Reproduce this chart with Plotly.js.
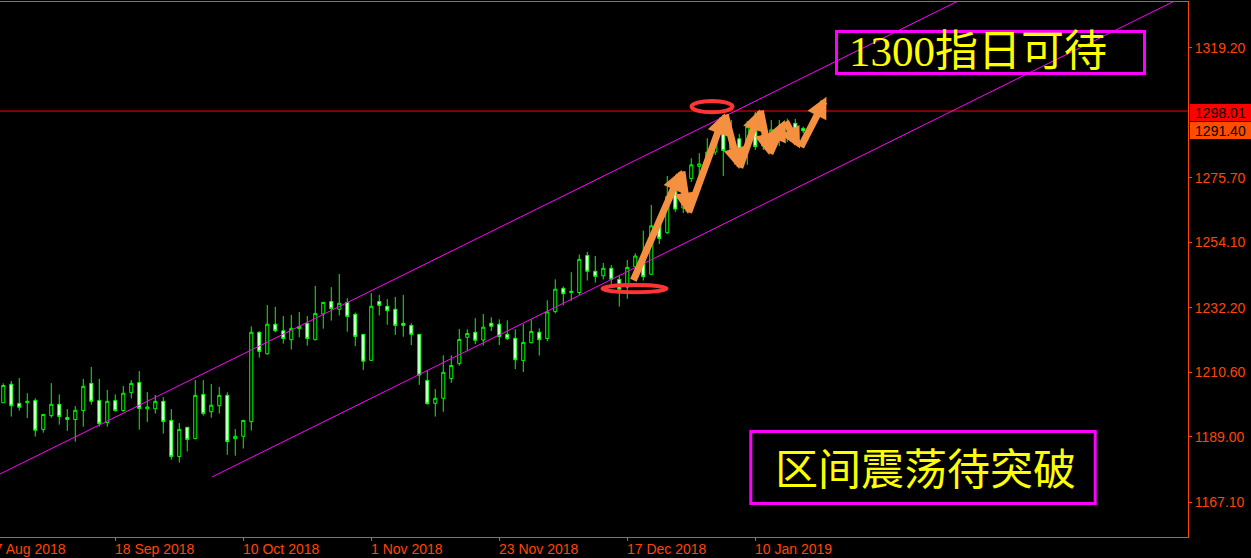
<!DOCTYPE html>
<html><head><meta charset="utf-8">
<script src="https://cdn.plot.ly/plotly-3.0.1.min.js"></script>
<style>html,body{margin:0;padding:0;background:#000;overflow:hidden}#chart{width:1251px;height:558px}</style>
</head><body><div id="chart"></div>
<script>
// ---- data (XAUUSD daily) ----
const dates = [
 '2018-08-29','2018-08-30','2018-08-31','2018-09-03','2018-09-04','2018-09-05','2018-09-06','2018-09-07','2018-09-10','2018-09-11',
 '2018-09-12','2018-09-13','2018-09-14','2018-09-17','2018-09-18','2018-09-19','2018-09-20','2018-09-21','2018-09-24','2018-09-25',
 '2018-09-26','2018-09-27','2018-09-28','2018-10-01','2018-10-02','2018-10-03','2018-10-04','2018-10-05','2018-10-08','2018-10-09',
 '2018-10-10','2018-10-11','2018-10-12','2018-10-15','2018-10-16','2018-10-17','2018-10-18','2018-10-19','2018-10-22','2018-10-23',
 '2018-10-24','2018-10-25','2018-10-26','2018-10-29','2018-10-30','2018-10-31','2018-11-01','2018-11-02','2018-11-05','2018-11-06',
 '2018-11-07','2018-11-08','2018-11-09','2018-11-12','2018-11-13','2018-11-14','2018-11-15','2018-11-16','2018-11-19','2018-11-20',
 '2018-11-21','2018-11-22','2018-11-23','2018-11-26','2018-11-27','2018-11-28','2018-11-29','2018-11-30','2018-12-03','2018-12-04',
 '2018-12-05','2018-12-06','2018-12-07','2018-12-10','2018-12-11','2018-12-12','2018-12-13','2018-12-14','2018-12-17','2018-12-18',
 '2018-12-19','2018-12-20','2018-12-21','2018-12-24','2018-12-26','2018-12-27','2018-12-28','2018-12-31','2019-01-02','2019-01-03',
 '2019-01-04','2019-01-07','2019-01-08','2019-01-09','2019-01-10','2019-01-11','2019-01-14','2019-01-15','2019-01-16','2019-01-17',
 '2019-01-18'
];
const openP = [
 1200.4,1206.6,1200.2,1200.4,1201.2,1191.5,1196.1,1199.9,1195.5,1194.8,
 1197.8,1206.9,1201.2,1193.8,1201.2,1197.8,1203.8,1207.2,1198.4,1198.4,
 1200.9,1194.5,1182.4,1192.2,1188.4,1203.2,1197.4,1199.4,1202.9,1188.4,
 1189.2,1194.1,1224.0,1216.8,1226.7,1224.5,1221.5,1225.2,1227.0,1221.5,
 1230.1,1234.3,1231.7,1234.0,1230.0,1223.3,1214.6,1234.3,1232.7,1231.7,
 1227.0,1226.3,1223.3,1207.9,1200.2,1201.9,1208.5,1213.5,1222.3,1224.0,
 1221.4,1227.0,1226.7,1223.3,1222.0,1214.5,1220.5,1224.0,1221.9,1230.9,
 1238.7,1237.3,1237.3,1249.7,1244.4,1242.9,1245.4,1241.7,1239.1,1245.9,
 1249.9,1243.4,1260.7,1257.3,1271.3,1265.6,1275.4,1279.5,1281.3,1284.3,
 1292.3,1285.0,1288.7,1285.3,1295.0,1286.3,1288.3,1291.3,1289.3,1293.9,
 1292.2
];
const highP = [
 1206.9,1207.7,1208.7,1203.6,1201.9,1196.6,1207.0,1203.2,1198.3,1199.3,
 1208.4,1212.4,1208.4,1204.7,1203.2,1206.0,1208.0,1211.0,1204.0,1203.0,
 1202.3,1198.3,1193.6,1192.3,1208.0,1208.0,1206.7,1205.7,1203.9,1191.6,
 1194.6,1226.0,1224.3,1233.1,1232.5,1229.4,1229.8,1230.8,1229.4,1239.5,
 1234.1,1239.1,1243.5,1235.4,1230.6,1223.4,1237.1,1236.5,1235.1,1235.8,
 1236.5,1227.0,1223.4,1211.3,1205.0,1216.3,1216.3,1225.1,1225.0,1228.7,
 1230.1,1229.0,1228.3,1228.0,1225.0,1226.7,1228.3,1225.3,1234.7,1241.7,
 1239.3,1244.1,1250.0,1250.9,1249.5,1247.2,1246.5,1243.2,1248.2,1250.4,
 1258.0,1266.6,1261.6,1276.3,1275.9,1276.6,1282.2,1283.9,1288.9,1292.7,
 1296.7,1295.0,1290.3,1294.7,1297.7,1292.3,1295.0,1295.0,1295.5,1295.4,
 1292.8
];
const lowP = [
 1200.4,1195.8,1197.8,1195.3,1189.1,1190.4,1195.4,1193.1,1191.0,1187.4,
 1192.4,1199.8,1192.4,1192.4,1197.4,1197.4,1201.9,1191.4,1194.0,1196.8,
 1190.1,1181.3,1180.4,1184.1,1188.2,1196.1,1195.4,1196.8,1183.0,1182.7,
 1185.1,1191.1,1215.5,1216.5,1224.0,1220.2,1218.2,1222.3,1219.5,1221.3,
 1225.2,1227.9,1229.6,1224.2,1219.4,1211.4,1214.5,1229.6,1226.5,1223.1,
 1222.5,1219.7,1206.4,1199.8,1195.8,1197.4,1207.1,1212.8,1217.6,1220.0,
 1219.5,1224.4,1219.7,1221.4,1211.7,1210.7,1220.3,1216.2,1221.0,1230.3,
 1233.0,1234.5,1236.5,1241.3,1240.6,1241.7,1239.8,1232.6,1235.2,1241.5,
 1241.3,1243.3,1253.5,1256.9,1264.2,1263.9,1274.3,1275.8,1279.0,1283.3,
 1276.3,1282.6,1282.3,1280.0,1285.0,1285.0,1286.0,1286.3,1287.7,1290.7,
 1290.6
];
const closeP = [
 1206.2,1199.4,1198.9,1200.9,1191.2,1196.5,1199.9,1195.8,1194.8,1197.9,
 1205.9,1200.9,1193.4,1200.9,1197.8,1203.6,1206.9,1198.5,1199.0,1200.9,
 1194.1,1182.4,1191.5,1188.1,1202.9,1196.8,1199.6,1202.9,1187.4,1189.2,
 1194.5,1224.0,1217.6,1226.7,1224.5,1221.9,1225.3,1225.9,1221.9,1230.3,
 1234.0,1231.9,1233.7,1229.3,1222.6,1214.3,1232.7,1233.0,1231.2,1226.3,
 1226.3,1223.3,1209.7,1200.1,1201.9,1210.6,1212.9,1221.6,1223.6,1221.3,
 1225.7,1226.0,1222.6,1221.9,1214.8,1220.6,1224.3,1221.5,1230.8,1238.4,
 1236.9,1237.7,1248.4,1244.4,1242.7,1245.4,1241.7,1238.4,1245.7,1249.5,
 1242.6,1259.6,1255.4,1269.4,1265.2,1274.9,1280.0,1280.3,1284.3,1289.0,
 1284.8,1290.0,1285.0,1292.8,1286.1,1290.0,1291.7,1288.3,1294.0,1291.9,
 1291.4
];
const yTickVals = [1167.1, 1189.0, 1210.6, 1232.2, 1254.1, 1275.7, 1319.2];
const xTickIdx = [-2, 14, 30, 46, 62, 78, 94];
const xTickLabels = ['27 Aug 2018','18 Sep 2018','10 Oct 2018','1 Nov 2018','23 Nov 2018','17 Dec 2018','10 Jan 2019'];
const resistance = 1298.01;
const lastPrice = 1291.40;
const upperChannelX = [-1, 121];
const upperChannelY = [1175.8, 1337.0];
const lowerChannelX = [26.1, 148.5];
const lowerChannelY = [1175.6, 1337.6];
const topEllipseX = [86.03, 91.15];
const topEllipseY = [1297.6, 1301.4];
const lowEllipseX = [74.9, 82.9];
const lowEllipseY = [1237.4, 1239.8];
const zigzagX = [78.68, 84.8, 85.6, 90.2, 92.0, 94.6, 95.75, 97.7, 99.6, 102.9];
const zigzagY = [1240.9, 1278.3, 1263.6, 1297.3, 1278.6, 1298.6, 1283.3, 1295.0, 1285.5, 1302.8];
const noteTop = '1300指日可待';
const noteBottom = '区间震荡待突破';

// ---- styles ----
const AXIS = '#ff4500';
const FONT = 'Liberation Sans, Arial, sans-serif';
const CJK = 'Liberation Serif, Noto Sans CJK SC, serif';
const ORANGE = '#f4903f';

const trace = {
  type: 'candlestick', x: dates, open: openP, high: highP, low: lowP, close: closeP,
  increasing: {line: {color: '#00ff00', width: 1}, fillcolor: '#000000'},
  decreasing: {line: {color: '#00ff00', width: 1}, fillcolor: '#ffffff'},
  whiskerwidth: 0, hoverinfo: 'skip', showlegend: false
};

const shapes = [
  {type:'line', xref:'paper', yref:'y', x0:0, x1:1, y0:resistance, y1:resistance, line:{color:'#ff0000', width:1}},
  {type:'line', xref:'x', yref:'y', x0:upperChannelX[0], x1:upperChannelX[1], y0:upperChannelY[0], y1:upperChannelY[1], line:{color:'#ff00ff', width:1}},
  {type:'line', xref:'x', yref:'y', x0:lowerChannelX[0], x1:lowerChannelX[1], y0:lowerChannelY[0], y1:lowerChannelY[1], line:{color:'#ff00ff', width:1}},
  {type:'circle', xref:'x', yref:'y', x0:topEllipseX[0], x1:topEllipseX[1], y0:topEllipseY[0], y1:topEllipseY[1], line:{color:'#ff3535', width:4}},
  {type:'circle', xref:'x', yref:'y', x0:lowEllipseX[0], x1:lowEllipseX[1], y0:lowEllipseY[0], y1:lowEllipseY[1], line:{color:'#ff3535', width:4}},
  {type:'rect', xref:'paper', yref:'paper', x0:0.70412, x1:0.96338, y0:0.86636, y1:0.94486, line:{color:'#ff00ff', width:3}},
  {type:'rect', xref:'paper', yref:'paper', x0:0.63199, x1:0.92189, y0:0.06262, y1:0.19720, line:{color:'#ff00ff', width:3}}
];

const annotations = [];
xTickIdx.forEach((idx, k) => {
  const inRange = idx >= 0;
  annotations.push({xref:'x', yref:'paper', x: inRange ? idx : 0, y:0, xanchor:'left', yanchor:'top',
    xshift: inRange ? -2 : -2 + idx * 8, yshift:-2, text: xTickLabels[k], showarrow:false,
    font:{family:FONT, size:14, color:AXIS}});
});
annotations.push({xref:'paper', yref:'y', x:1, y:resistance, xanchor:'left', yanchor:'middle', xshift:2, yshift:-1,
  text: resistance.toFixed(2), showarrow:false, bgcolor:'#ff0000', width:61, height:17, borderpad:0, borderwidth:0,
  font:{family:FONT, size:14, color:'#000000'}});
annotations.push({xref:'paper', yref:'y', x:1, y:lastPrice, xanchor:'left', yanchor:'middle', xshift:2, yshift:0,
  text: lastPrice.toFixed(2), showarrow:false, bgcolor:'#ff4d00', width:61, height:17, borderpad:0, borderwidth:0,
  font:{family:FONT, size:14, color:'#000000'}});
annotations.push({xref:'paper', yref:'paper', x:0.82365, y:0.9084, xanchor:'center', yanchor:'middle',
  text: noteTop, showarrow:false, font:{family:CJK, size:43, color:'#ffff00'}});
annotations.push({xref:'paper', yref:'paper', x:0.77946, y:0.1234, xanchor:'center', yanchor:'middle',
  text: noteBottom, showarrow:false, font:{family:CJK, size:43, color:'#ffff00'}});
for (let k = 1; k < zigzagX.length; k++) {
  annotations.push({xref:'x', yref:'y', axref:'x', ayref:'y', x:zigzagX[k], y:zigzagY[k], ax:zigzagX[k-1], ay:zigzagY[k-1],
    text:'', showarrow:true, arrowhead:2, arrowsize:0.6, arrowwidth:7, arrowcolor:ORANGE, standoff:0, startstandoff:0});
}

const layout = {
  width:1251, height:558,
  margin:{l:0, r:63, t:2, b:21, pad:0},
  paper_bgcolor:'#000000', plot_bgcolor:'#000000',
  showlegend:false, boxgap:0.45,
  xaxis:{type:'category', range:[-0.41, 148.09], rangeslider:{visible:false},
    tickmode:'array', tickvals: xTickIdx.filter(i => i >= 0).map(i => dates[i]), showticklabels:false,
    ticks:'outside', ticklen:3, tickcolor:AXIS, tickwidth:1,
    showline:true, mirror:true, linecolor:AXIS, linewidth:1, showgrid:false, zeroline:false, fixedrange:true},
  yaxis:{side:'right', range:[1155.50, 1334.49], tickmode:'array', tickvals:yTickVals,
    ticktext: yTickVals.map(v => v.toFixed(2)), ticks:'outside', ticklen:3, tickcolor:AXIS,
    tickfont:{family:FONT, size:14, color:AXIS}, showline:true, linecolor:AXIS, linewidth:1,
    showgrid:false, zeroline:false, fixedrange:true},
  shapes: shapes, annotations: annotations
};

Plotly.newPlot('chart', [trace], layout, {staticPlot:true, displayModeBar:false});
</script>
</body></html>
